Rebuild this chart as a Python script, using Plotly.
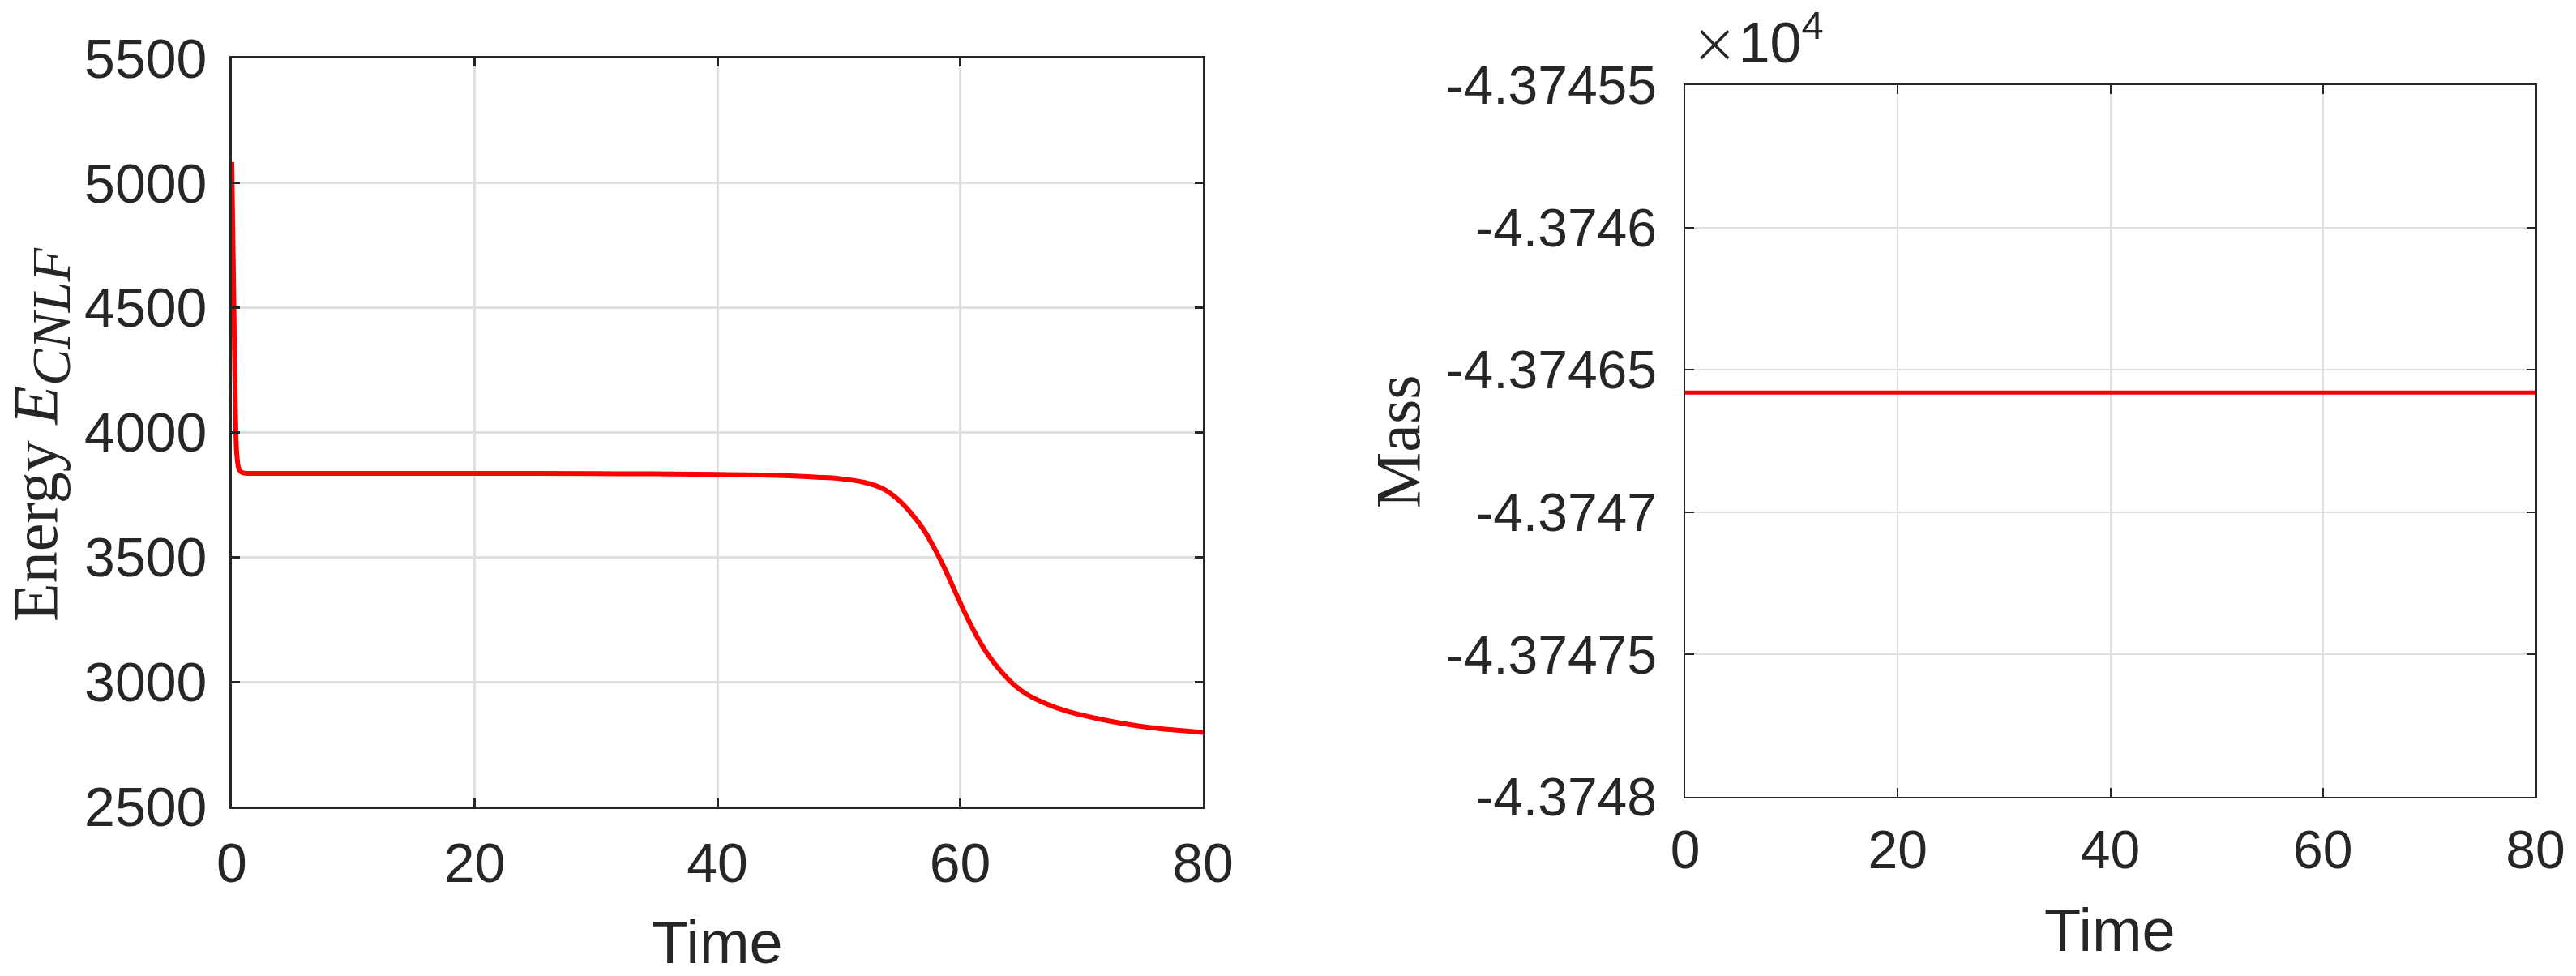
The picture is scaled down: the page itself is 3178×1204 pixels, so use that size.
import plotly.graph_objects as go

# ---------------- data ----------------
time_energy = [0, 0.1, 0.2, 0.3, 0.4, 0.55, 0.75, 1.0, 1.5, 3, 10, 20, 30, 40, 45,
               47.7, 49.9, 52.1, 53.7, 54.8, 55.9, 57.0, 57.9, 58.8, 59.7, 60.6, 61.5,
               62.4, 63.3, 64.4, 65.5, 67.1, 68.8, 71.1, 73.3, 75.5, 77.7, 80]
energy = [5085, 4750, 4400, 4080, 3920, 3860, 3842, 3837, 3836, 3836, 3836, 3836, 3835,
          3832, 3828,
          3822, 3816, 3800, 3773, 3735, 3680, 3610, 3534, 3447, 3350, 3256, 3172,
          3102, 3046, 2990, 2950, 2912, 2882, 2855, 2834, 2818, 2807, 2797]

time_mass = [0, 10, 20, 30, 40, 50, 60, 70, 80]
mass = [-43746.58, -43746.58, -43746.58, -43746.58, -43746.58, -43746.58, -43746.58,
        -43746.58, -43746.58]

x_ticks = [0, 20, 40, 60, 80]
energy_ticks = [2500, 3000, 3500, 4000, 4500, 5000, 5500]
mass_ticks = [-43748, -43747.5, -43747, -43746.5, -43746, -43745.5]
mass_ticktext = ["-4.3748", "-4.37475", "-4.3747", "-4.37465", "-4.3746", "-4.37455"]

# ---------------- layout geometry ----------------
W, H = 3178, 1204
def px(x): return x / W
def py(y): return 1 - y / H

AX = "#262626"
GRID = "#e0e0e0"
SANS = "Liberation Sans, Arial, sans-serif"
TICKFONT_L = dict(family=SANS, size=68, color=AX)
TICKFONT_R = dict(family=SANS, size=66, color=AX)

fig = go.Figure()
fig.add_trace(go.Scatter(x=time_energy, y=energy, mode="lines",
                         line=dict(color="#ff0000", width=6, shape="spline", smoothing=0.8),
                         xaxis="x", yaxis="y", showlegend=False, hoverinfo="skip"))
fig.add_trace(go.Scatter(x=time_mass, y=mass, mode="lines",
                         line=dict(color="#ff0000", width=5),
                         xaxis="x2", yaxis="y2", showlegend=False, hoverinfo="skip"))

common = dict(showline=True, linecolor=AX, mirror="ticks", ticks="inside",
              tickcolor=AX, showgrid=True, gridcolor=GRID, zeroline=False,
              automargin=False)

fig.update_layout(
    template="none",
    width=W, height=H, margin=dict(l=0, r=0, t=0, b=0, autoexpand=False),
    paper_bgcolor="white", plot_bgcolor="white",
    xaxis=dict(domain=[px(286), px(1484)], range=[0, 80], tickvals=x_ticks,
               linewidth=3, tickwidth=3, ticklen=10, gridwidth=3, tickfont=TICKFONT_L,
               anchor="y", ticklabelstandoff=8, **common),
    yaxis=dict(domain=[py(995), py(72)], range=[2500, 5500], tickvals=energy_ticks,
               linewidth=3, tickwidth=3, ticklen=10, gridwidth=3, tickfont=TICKFONT_L,
               anchor="x", ticklabelstandoff=14, **common),
    xaxis2=dict(domain=[px(2079), px(3128)], range=[0, 80], tickvals=x_ticks,
                linewidth=1.5, tickwidth=1.5, ticklen=11, gridwidth=1.5, tickfont=TICKFONT_R,
                anchor="y2", ticklabelstandoff=7, **common),
    yaxis2=dict(domain=[py(983), py(105)], range=[-43748, -43745.5], tickvals=mass_ticks,
                ticktext=mass_ticktext, tickfont=TICKFONT_R,
                linewidth=1.5, tickwidth=1.5, ticklen=11, gridwidth=1.5,
                anchor="x2", ticklabelstandoff=20, **common),
)

TITLEFONT = dict(family=SANS, size=74, color=AX)
SERIF = dict(family="Liberation Serif, Times New Roman, serif", size=78, color=AX)

fig.add_annotation(text="Time", x=px(885), y=py(1162), xref="paper", yref="paper",
                   showarrow=False, xanchor="center", yanchor="middle", font=TITLEFONT)
fig.add_annotation(text="Time", x=px(2603), y=py(1147), xref="paper", yref="paper",
                   showarrow=False, xanchor="center", yanchor="middle", font=TITLEFONT)
fig.add_annotation(text="Energy <i>E</i><sub><i><span style=\"font-size:68px\">CNLF</span></i></sub>",
                   x=px(50), y=py(536),
                   xref="paper", yref="paper", showarrow=False, textangle=-90,
                   xanchor="center", yanchor="middle", font=SERIF)
fig.add_annotation(text="Mass", x=px(1724), y=py(545), xref="paper", yref="paper",
                   showarrow=False, textangle=-90, xanchor="center", yanchor="middle",
                   font=SERIF)
fig.add_annotation(text="<span style=\"font-family:DejaVu Sans;font-weight:300\">×</span>10<sup>4</sup>",
                   x=px(2084), y=py(96), xref="paper", yref="paper",
                   showarrow=False, xanchor="left", yanchor="bottom",
                   font=dict(family=SANS, size=70, color=AX))

fig.write_html("out.html")
